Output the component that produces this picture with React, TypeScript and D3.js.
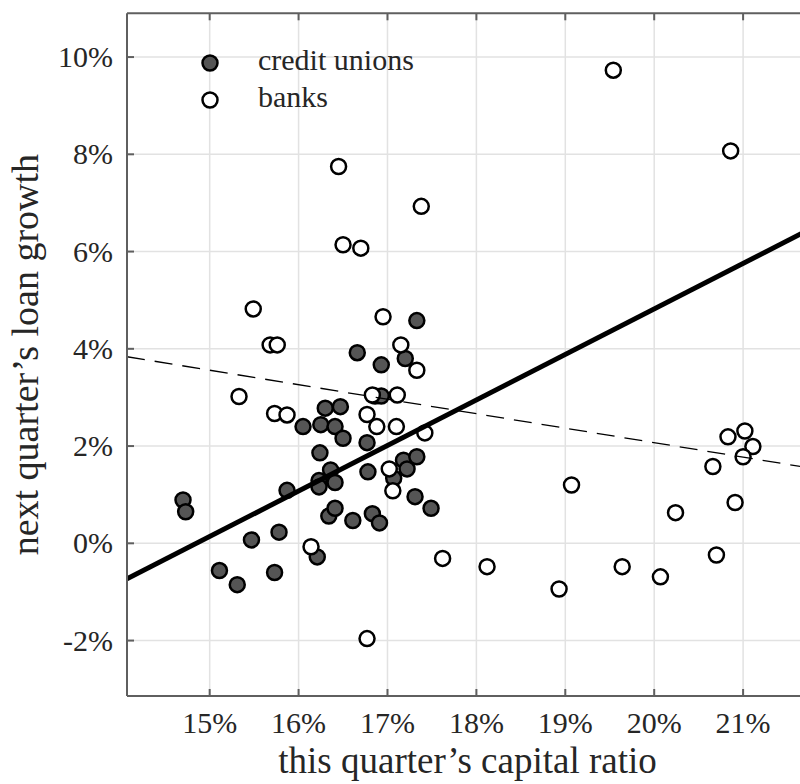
import { useEffect, useRef } from "react";
import * as d3 from "d3";

// credit unions: capital ratio (%) and next quarter loan growth (%)
const cuX = [17.33, 16.66, 16.93, 17.2, 16.86, 16.93, 16.3, 16.47, 16.05, 16.25, 16.41, 16.5, 16.77, 16.24, 16.36, 16.23, 16.23, 16.41, 15.87, 16.78, 17.18, 17.33, 17.22, 17.07, 17.31, 17.49, 14.7, 14.73, 16.34, 16.41, 16.61, 16.83, 16.91, 15.47, 15.78, 15.11, 15.31, 15.73, 16.21];
const cuY = [4.58, 3.92, 3.67, 3.8, 3.03, 3.03, 2.78, 2.81, 2.4, 2.44, 2.4, 2.16, 2.07, 1.86, 1.51, 1.29, 1.16, 1.25, 1.09, 1.47, 1.71, 1.78, 1.53, 1.34, 0.96, 0.72, 0.89, 0.65, 0.56, 0.72, 0.47, 0.61, 0.42, 0.07, 0.23, -0.56, -0.85, -0.6, -0.28];

// banks
const bankX = [19.54, 20.86, 16.45, 17.38, 16.5, 16.7, 15.49, 16.95, 15.68, 15.76, 17.15, 17.33, 15.33, 16.83, 17.11, 15.73, 15.87, 16.77, 16.88, 17.1, 17.42, 17.02, 17.06, 16.14, 17.62, 16.77, 19.07, 18.12, 18.93, 19.64, 20.07, 20.24, 20.7, 20.91, 20.66, 20.83, 21.02, 21.11, 21.0];
const bankY = [9.73, 8.07, 7.75, 6.93, 6.14, 6.07, 4.82, 4.66, 4.08, 4.08, 4.08, 3.56, 3.02, 3.05, 3.05, 2.67, 2.64, 2.65, 2.4, 2.4, 2.27, 1.53, 1.08, -0.07, -0.31, -1.96, 1.2, -0.48, -0.94, -0.48, -0.69, 0.63, -0.24, 0.84, 1.58, 2.19, 2.31, 1.99, 1.78];

// fitted lines: y = intercept + slope * x
const fitNames = ["credit unions fit", "banks fit"];
const fitIntercepts = [-13.9, 8.03];
const fitSlopes = [0.936, -0.298];

const xTicks = [15, 16, 17, 18, 19, 20, 21];
const yTicks = [-2, 0, 2, 4, 6, 8, 10];
const legendLabels = ["credit unions", "banks"];

export default function App() {
  const svgRef = useRef(null);

  useEffect(() => {
    const width = 800;
    const height = 784;
    const left = 127, right = 808, top = 13.3, bottom = 696;
    const font = "'Liberation Serif', serif";
    const textColor = "#262626";
    const r = 7.5;

    const svg = d3.select(svgRef.current);
    svg.selectAll("*").remove();
    svg.attr("width", width).attr("height", height).style("background", "#fff");

    const x = d3.scaleLinear().domain([14.07, 21.73]).range([left, right]);
    const y = d3.scaleLinear().domain([-3.14, 10.9]).range([bottom, top]);

    svg.append("defs").append("clipPath").attr("id", "plotclip")
      .append("rect").attr("x", left).attr("y", top)
      .attr("width", right - left).attr("height", bottom - top);

    // grid
    const grid = svg.append("g");
    grid.selectAll(".vx").data(xTicks).enter().append("line")
      .attr("x1", d => x(d)).attr("x2", d => x(d))
      .attr("y1", top).attr("y2", bottom)
      .attr("stroke", "#e2e2e2").attr("stroke-width", 1.5);
    grid.selectAll(".hy").data(yTicks).enter().append("line")
      .attr("x1", left).attr("x2", right)
      .attr("y1", d => y(d)).attr("y2", d => y(d))
      .attr("stroke", "#e2e2e2").attr("stroke-width", 1.5);

    // points
    const cu = cuX.map((v, i) => ({ x: v, y: cuY[i] }));
    const banks = bankX.map((v, i) => ({ x: v, y: bankY[i] }));
    const pts = svg.append("g").attr("clip-path", "url(#plotclip)");
    pts.selectAll(".cu").data(cu).enter().append("circle")
      .attr("cx", d => x(d.x)).attr("cy", d => y(d.y)).attr("r", r)
      .attr("fill", "#555").attr("stroke", "#000").attr("stroke-width", 2.5);
    pts.selectAll(".bk").data(banks).enter().append("circle")
      .attr("cx", d => x(d.x)).attr("cy", d => y(d.y)).attr("r", r)
      .attr("fill", "#fff").attr("stroke", "#000").attr("stroke-width", 2.5);

    // fit lines
    const [x0, x1] = x.domain();
    const fits = fitNames.map((n, i) => ({
      name: n,
      pts: [x0, x1].map(v => [v, fitIntercepts[i] + fitSlopes[i] * v] as [number, number])
    }));
    const line = d3.line<[number, number]>().x(d => x(d[0])).y(d => y(d[1]));
    const lines = svg.append("g").attr("clip-path", "url(#plotclip)");
    lines.append("path").attr("d", line(fits[0].pts))
      .attr("fill", "none").attr("stroke", "#000").attr("stroke-width", 5);
    lines.append("path").attr("d", line(fits[1].pts))
      .attr("fill", "none").attr("stroke", "#000").attr("stroke-width", 1.3)
      .attr("stroke-dasharray", "18,10");

    // axes box (right side falls outside the picture)
    const axisColor = "#5f5f5f";
    const ax = svg.append("g").attr("stroke", axisColor).attr("stroke-width", 2);
    ax.append("line").attr("x1", left).attr("x2", right).attr("y1", top).attr("y2", top);
    ax.append("line").attr("x1", left).attr("x2", right).attr("y1", bottom).attr("y2", bottom);
    ax.append("line").attr("x1", left).attr("x2", left).attr("y1", top).attr("y2", bottom);
    xTicks.forEach(t => {
      ax.append("line").attr("x1", x(t)).attr("x2", x(t)).attr("y1", bottom).attr("y2", bottom - 7);
      ax.append("line").attr("x1", x(t)).attr("x2", x(t)).attr("y1", top).attr("y2", top + 7);
    });
    yTicks.forEach(t => {
      ax.append("line").attr("x1", left).attr("x2", left + 7).attr("y1", y(t)).attr("y2", y(t));
    });

    // tick labels
    svg.selectAll(".xl").data(xTicks).enter().append("text")
      .attr("x", d => x(d)).attr("y", 733)
      .attr("text-anchor", "middle")
      .style("font-family", font).style("font-size", "30px").attr("fill", textColor)
      .text(d => `${d}%`);
    svg.selectAll(".yl").data(yTicks).enter().append("text")
      .attr("x", 113).attr("y", d => y(d) + 10)
      .attr("text-anchor", "end")
      .style("font-family", font).style("font-size", "30px").attr("fill", textColor)
      .text(d => `${d}%`);

    // axis titles
    svg.append("text")
      .attr("x", (left + right) / 2).attr("y", 773)
      .attr("text-anchor", "middle")
      .style("font-family", font).style("font-size", "37px").attr("fill", textColor)
      .text("this quarter\u2019s capital ratio");
    svg.append("text")
      .attr("transform", `translate(38, ${(top + bottom) / 2}) rotate(-90)`)
      .attr("text-anchor", "middle")
      .style("font-family", font).style("font-size", "38px").attr("fill", textColor)
      .text("next quarter\u2019s loan growth");

    // legend
    const fills = ["#555", "#fff"];
    legendLabels.forEach((lab, i) => {
      const cy = 63 + i * 37;
      svg.append("circle").attr("cx", 210).attr("cy", cy).attr("r", r)
        .attr("fill", fills[i]).attr("stroke", "#000").attr("stroke-width", 2.5);
      svg.append("text").attr("x", 258).attr("y", cy + 7)
        .style("font-family", font).style("font-size", "30px").attr("fill", textColor)
        .text(lab);
    });
  }, []);

  return <svg ref={svgRef} style={{ position: "absolute", left: 0, top: 0, display: "block" }}></svg>;
}
